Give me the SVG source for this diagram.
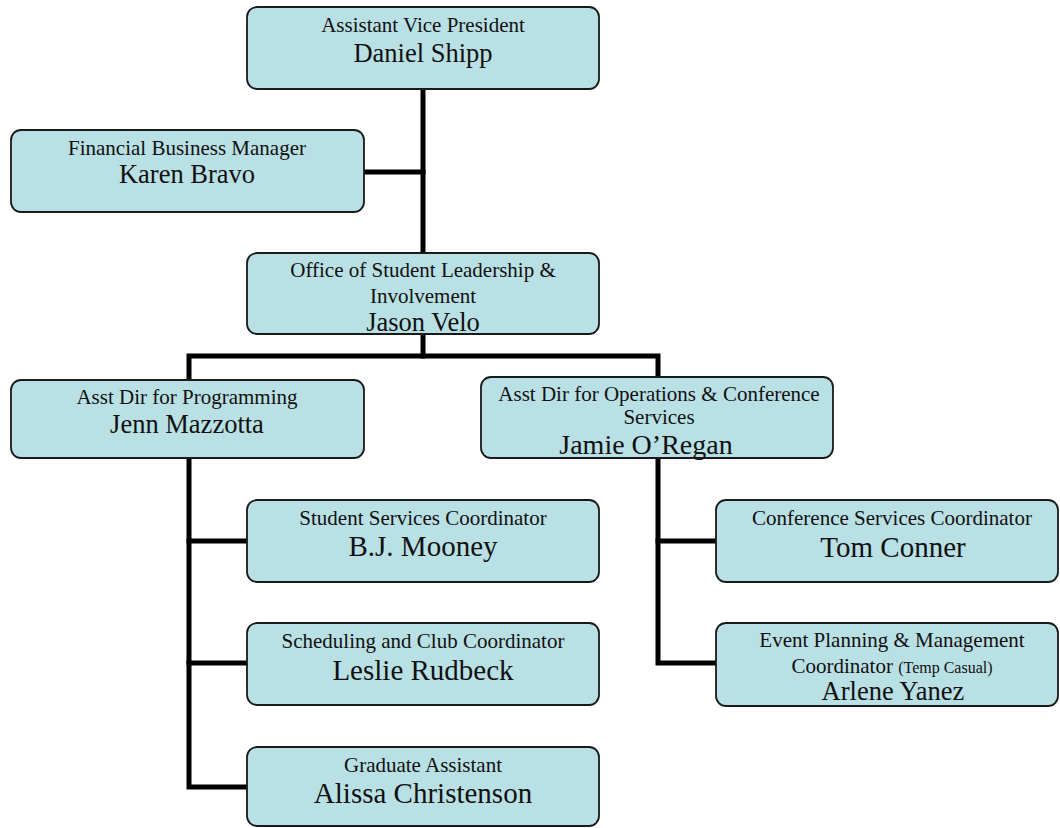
<svg xmlns="http://www.w3.org/2000/svg" width="1060" height="828" viewBox="0 0 1060 828">
<style>
.box{fill:#b9e0e4;stroke:#1a1a1a;stroke-width:1.8}
.t{font-family:"Liberation Serif","Times New Roman",serif;font-size:21px;fill:#111;text-anchor:middle}
.n{font-family:"Liberation Serif","Times New Roman",serif;font-size:26.5px;fill:#111;text-anchor:middle}
.nb{font-family:"Liberation Serif","Times New Roman",serif;font-size:29px;fill:#111;text-anchor:middle}
.s{font-size:16px}
.c{fill:none;stroke:#000;stroke-width:5;stroke-linejoin:miter;stroke-linecap:square}
</style>
<rect width="1060" height="828" fill="#ffffff"/>
<g id="connectors">
<path class="c" d="M423,89 V253"/>
<path class="c" d="M365,172 H423"/>
<path class="c" d="M423,334 V356"/>
<path class="c" d="M189,379 V356 H658 V377"/>
<path class="c" d="M189,458 V787 H246"/>
<path class="c" d="M189,541 H246"/>
<path class="c" d="M189,663 H246"/>
<path class="c" d="M658,458 V663 H715"/>
<path class="c" d="M658,541 H715"/>
</g>
<g id="daniel">
<rect class="box" x="247" y="7" width="352" height="82" rx="10"/>
<text class="t" x="423" y="32">Assistant Vice President</text>
<text class="n" x="423" y="62">Daniel Shipp</text>
</g>
<g id="karen">
<rect class="box" x="11" y="130" width="353" height="82" rx="10"/>
<text class="t" x="187" y="155">Financial Business Manager</text>
<text class="n" x="187" y="183">Karen Bravo</text>
</g>
<g id="jason">
<rect class="box" x="247" y="253" width="352" height="81" rx="10"/>
<text class="t" x="423" y="277">Office of Student Leadership &amp;</text>
<text class="t" x="423" y="303">Involvement</text>
<text class="n" x="423" y="331">Jason Velo</text>
</g>
<g id="jenn">
<rect class="box" x="11" y="380" width="353" height="78" rx="10"/>
<text class="t" x="187" y="404">Asst Dir for Programming</text>
<text class="n" x="187" y="433">Jenn Mazzotta</text>
</g>
<g id="jamie">
<rect class="box" x="481" y="377" width="352" height="81" rx="10"/>
<text class="t" x="659" y="401">Asst Dir for Operations &amp; Conference</text>
<text class="t" x="659" y="424">Services</text>
<text class="nb" x="646" y="454" style="font-size:28px">Jamie O’Regan</text>
</g>
<g id="bj">
<rect class="box" x="247" y="500" width="352" height="82" rx="10"/>
<text class="t" x="423" y="525">Student Services Coordinator</text>
<text class="nb" x="423" y="556">B.J. Mooney</text>
</g>
<g id="leslie">
<rect class="box" x="247" y="623" width="352" height="82" rx="10"/>
<text class="t" x="423" y="648">Scheduling and Club Coordinator</text>
<text class="nb" x="423" y="680">Leslie Rudbeck</text>
</g>
<g id="alissa">
<rect class="box" x="247" y="747" width="352" height="79" rx="10"/>
<text class="t" x="423" y="772">Graduate Assistant</text>
<text class="nb" x="423" y="803">Alissa Christenson</text>
</g>
<g id="tom">
<rect class="box" x="716" y="500" width="342" height="82" rx="10"/>
<text class="t" x="892" y="525">Conference Services Coordinator</text>
<text class="nb" x="893" y="557">Tom Conner</text>
</g>
<g id="arlene">
<rect class="box" x="716" y="623" width="342" height="83" rx="10"/>
<text class="t" x="892" y="647">Event Planning &amp; Management</text>
<text class="t" x="892" y="673">Coordinator <tspan class="s">(Temp Casual)</tspan></text>
<text class="n" x="893" y="700">Arlene Yanez</text>
</g>
</svg>
